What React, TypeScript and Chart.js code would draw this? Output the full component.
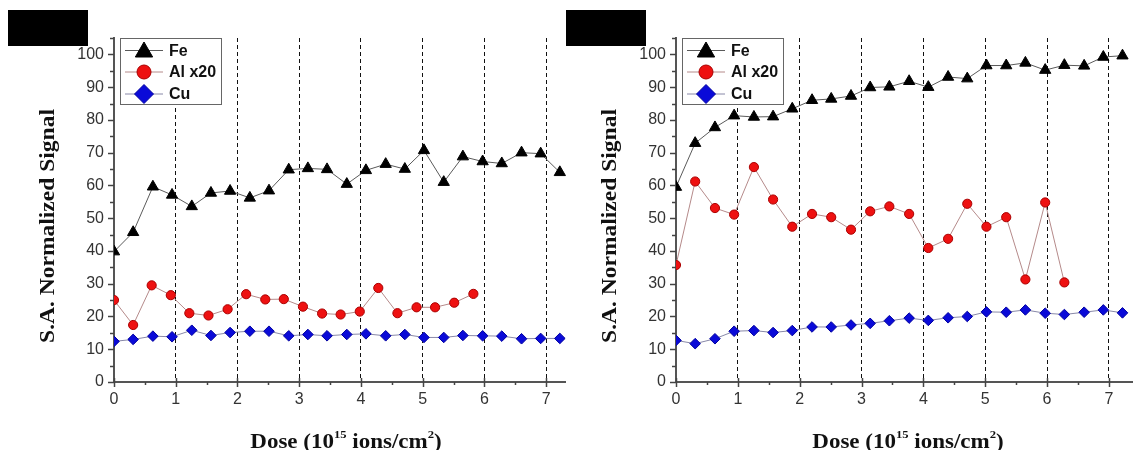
import React, { useEffect, useRef } from "react";
import { Chart, registerables } from "chart.js";

Chart.register(...registerables);

// ---- Data ----
const doseMain = [0, 0.31, 0.63, 0.94, 1.26, 1.57, 1.88, 2.2, 2.51, 2.83, 3.14, 3.45, 3.77, 4.08, 4.4, 4.71, 5.02, 5.34, 5.65, 5.97, 6.28, 6.6, 6.91, 7.22];
const doseAlLeft = [0, 0.31, 0.61, 0.92, 1.22, 1.53, 1.84, 2.14, 2.45, 2.75, 3.06, 3.37, 3.67, 3.98, 4.28, 4.59, 4.9, 5.2, 5.51, 5.82];

const leftFe = [39.8, 45.7, 59.6, 57.1, 53.6, 57.7, 58.3, 56.2, 58.4, 64.8, 65.2, 64.9, 60.4, 64.6, 66.5, 65.0, 70.7, 61.0, 68.8, 67.3, 66.7, 70.0, 69.7, 64.0];
const leftAl = [25.0, 17.4, 29.5, 26.5, 21.0, 20.3, 22.2, 26.8, 25.2, 25.3, 23.0, 20.9, 20.6, 21.5, 28.7, 21.0, 22.8, 22.8, 24.2, 26.9];
const leftCu = [12.4, 13.0, 14.0, 13.8, 15.8, 14.2, 15.1, 15.5, 15.5, 14.1, 14.5, 14.1, 14.5, 14.7, 14.1, 14.5, 13.6, 13.6, 14.2, 14.1, 14.0, 13.2, 13.3, 13.3];

const rightFe = [59.5, 72.9, 77.7, 81.3, 80.9, 81.0, 83.4, 86.0, 86.4, 87.3, 89.9, 90.1, 91.8, 90.0, 93.1, 92.6, 96.6, 96.6, 97.4, 95.2, 96.7, 96.5, 99.2, 99.6];
const rightAl = [35.7, 61.2, 53.1, 51.1, 65.6, 55.7, 47.4, 51.3, 50.3, 46.5, 52.1, 53.6, 51.3, 40.9, 43.7, 54.4, 47.4, 50.3, 31.3, 54.8, 30.4];
const rightCu = [12.7, 11.7, 13.2, 15.5, 15.7, 15.1, 15.7, 16.8, 16.8, 17.4, 17.9, 18.7, 19.5, 18.8, 19.6, 20.0, 21.4, 21.3, 22.0, 21.0, 20.6, 21.3, 22.0, 21.1];

const seriesNames = ["Fe", "Al x20", "Cu"];
const yTickValues = [0, 10, 20, 30, 40, 50, 60, 70, 80, 90, 100];
const yTitle = "S.A. Normalized Signal";
const xTitleParts = [
  { t: "Dose (10", sup: false },
  { t: "15", sup: true },
  { t: " ions/cm", sup: false },
  { t: "2", sup: true },
  { t: ")", sup: false },
];

const SANS = "'Liberation Sans', Arial, sans-serif";
const SERIF = "'Liberation Serif', 'Times New Roman', serif";

const FE = { line: "#5a5a5a", fill: "#000000", edge: "#000000", shape: "triangle", r: 6.5 };
const AL = { line: "#b58a8a", fill: "#ee1111", edge: "#aa0000", shape: "circle", r: 4.6 };
const CU = { line: "#8888a8", fill: "#0a0ad8", edge: "#0000a0", shape: "rectRot", r: 5.3 };

function pts(xs: number[], ys: number[]) {
  return ys.map((y, i) => ({ x: xs[i], y }));
}

function drawMarker(ctx: CanvasRenderingContext2D, shape: string, cx: number, cy: number, r: number, fill: string, edge: string) {
  ctx.beginPath();
  if (shape === "triangle") {
    ctx.moveTo(cx, cy - r);
    ctx.lineTo(cx + r * 0.866, cy + r * 0.5);
    ctx.lineTo(cx - r * 0.866, cy + r * 0.5);
    ctx.closePath();
  } else if (shape === "circle") {
    ctx.arc(cx, cy, r, 0, Math.PI * 2);
  } else {
    ctx.moveTo(cx, cy - r);
    ctx.lineTo(cx + r, cy);
    ctx.lineTo(cx, cy + r);
    ctx.lineTo(cx - r, cy);
    ctx.closePath();
  }
  ctx.fillStyle = fill;
  ctx.fill();
  ctx.strokeStyle = edge;
  ctx.lineWidth = 1;
  ctx.stroke();
}

const decorPlugin = {
  id: "decor",
  afterDraw(chart: any) {
    const { ctx, chartArea: a, scales } = chart;
    const x = scales.x;
    const y = scales.y;
    ctx.save();
    // tick marks
    ctx.strokeStyle = "#444";
    ctx.lineWidth = 1.5;
    for (let v = 0; v <= 105; v += 5) {
      const py = Math.round(y.getPixelForValue(v)) + 0.5;
      const len = v % 10 === 0 ? 6 : 4;
      ctx.beginPath();
      ctx.moveTo(a.left - len, py);
      ctx.lineTo(a.left, py);
      ctx.stroke();
    }
    for (let k = 0; k * 0.5 <= x.max; k++) {
      const v = k * 0.5;
      const px = Math.round(x.getPixelForValue(v)) + 0.5;
      ctx.beginPath();
      if (k % 2 === 0) {
        ctx.moveTo(px, a.bottom - 4);
        ctx.lineTo(px, a.bottom + 5);
      } else {
        ctx.moveTo(px, a.bottom);
        ctx.lineTo(px, a.bottom + 3);
      }
      ctx.stroke();
    }

    // legend
    const lx = a.left + 6;
    const ly = 38.5;
    ctx.fillStyle = "#fff";
    ctx.fillRect(lx, ly, 101, 66);
    ctx.strokeStyle = "#666";
    ctx.lineWidth = 1;
    ctx.strokeRect(Math.round(lx) + 0.5, ly, 101, 66);
    const rows = [50.5, 72, 94];
    const styles = [FE, AL, CU];
    const legendR = [10, 7, 9.5];
    ctx.font = `bold 16px ${SANS}`;
    ctx.textBaseline = "middle";
    ctx.textAlign = "left";
    styles.forEach((s, i) => {
      const ry = rows[i];
      ctx.strokeStyle = s.line;
      ctx.lineWidth = 1;
      ctx.beginPath();
      ctx.moveTo(a.left + 11, ry);
      ctx.lineTo(a.left + 49, ry);
      ctx.stroke();
      const cy = s.shape === "triangle" ? ry + 1.5 : ry;
      drawMarker(ctx, s.shape, a.left + 30, cy, legendR[i], s.fill, s.edge);
      ctx.fillStyle = "#111";
      ctx.fillText(seriesNames[i], a.left + 55, ry + 1);
    });

    // y title
    ctx.save();
    ctx.translate(a.left - 65, 226);
    ctx.rotate(-Math.PI / 2);
    ctx.scale(1.12, 1);
    ctx.font = `bold 21px ${SERIF}`;
    ctx.fillStyle = "#111";
    ctx.textAlign = "center";
    ctx.textBaseline = "middle";
    ctx.fillText(yTitle, 0, 0);
    ctx.restore();

    // x title with superscripts
    ctx.save();
    const mainFont = `bold 20px ${SERIF}`;
    const supFont = `bold 11px ${SERIF}`;
    let total = 0;
    const widths = xTitleParts.map((p) => {
      ctx.font = p.sup ? supFont : mainFont;
      const w = ctx.measureText(p.t).width;
      total += w;
      return w;
    });
    ctx.translate(a.left + 232, 448);
    ctx.scale(1.15, 1);
    ctx.fillStyle = "#111";
    ctx.textAlign = "left";
    ctx.textBaseline = "alphabetic";
    let cx = -total / 2;
    xTitleParts.forEach((p, i) => {
      ctx.font = p.sup ? supFont : mainFont;
      ctx.fillText(p.t, cx, p.sup ? -10 : 0);
      cx += widths[i];
    });
    ctx.restore();

    ctx.restore();
  },
};

function makeDataset(label: string, data: any[], s: any) {
  return {
    label,
    data,
    showLine: true,
    borderColor: s.line,
    borderWidth: 1,
    pointStyle: s.shape,
    pointRadius: s.r,
    pointBackgroundColor: s.fill,
    pointBorderColor: s.edge,
    pointBorderWidth: 1,
    fill: false,
  };
}

function buildConfig(fe: number[], al: number[], alDose: number[], cu: number[], axisLeft: number, xMax: number) {
  return {
    type: "scatter",
    data: {
      datasets: [
        makeDataset(seriesNames[0], pts(doseMain, fe), FE),
        makeDataset(seriesNames[1], pts(alDose, al), AL),
        makeDataset(seriesNames[2], pts(doseMain, cu), CU),
      ],
    },
    options: {
      animation: false,
      responsive: false,
      layout: { autoPadding: false, padding: { top: 38, left: 0, right: 0, bottom: 0 } },
      plugins: { legend: { display: false }, tooltip: { enabled: false }, title: { display: false } },
      scales: {
        x: {
          type: "linear",
          min: 0,
          max: xMax,
          afterFit: (s: any) => {
            s.height = 68;
            s.paddingLeft = 0;
            s.paddingRight = 0;
          },
          ticks: {
            stepSize: 1,
            includeBounds: false,
            padding: 8,
            color: "#333",
            font: { family: SANS, size: 16 },
            callback: (v: number) => (Number.isInteger(v) ? String(v) : ""),
          },
          grid: {
            drawTicks: false,
            drawOnChartArea: true,
            lineWidth: 1,
            color: (c: any) => (c.tick && c.tick.value > 0 && Number.isInteger(c.tick.value) ? "#111" : "rgba(0,0,0,0)"),
          },
          border: { display: true, color: "#555", width: 2, dash: [4, 3] },
          title: { display: false },
        },
        y: {
          type: "linear",
          min: 0,
          max: 105,
          afterFit: (s: any) => {
            s.width = axisLeft;
            s.paddingTop = 0;
            s.paddingBottom = 0;
          },
          ticks: {
            stepSize: 5,
            padding: 10,
            color: "#333",
            font: { family: SANS, size: 16 },
            callback: (v: number) => (yTickValues.includes(v) ? String(v) : ""),
          },
          grid: { display: false, drawTicks: false },
          border: { display: true, color: "#555", width: 2 },
          title: { display: false },
        },
      },
    },
    plugins: [decorPlugin],
  };
}

function Panel(props: { left: number; width: number; cfg: any }) {
  const ref = useRef<HTMLCanvasElement>(null);
  useEffect(() => {
    if (!ref.current) return;
    const chart = new Chart(ref.current, props.cfg);
    return () => chart.destroy();
  }, []);
  return (
    <canvas
      ref={ref}
      width={props.width}
      height={450}
      style={{ position: "absolute", left: props.left, top: 0, width: props.width, height: 450 }}
    />
  );
}

export default function App() {
  const leftCfg = buildConfig(leftFe, leftAl, doseAlLeft, leftCu, 114, 7.32);
  const rightCfg = buildConfig(rightFe, rightAl, doseMain.slice(0, rightAl.length), rightCu, 110, 7.39);
  return (
    <div style={{ position: "absolute", left: 0, top: 0, width: 1133, height: 450, background: "#fff", overflow: "hidden" }}>
      <Panel left={0} width={566} cfg={leftCfg} />
      <Panel left={566} width={567} cfg={rightCfg} />
      <div style={{ position: "absolute", left: 8, top: 10, width: 80, height: 36, background: "#000" }} />
      <div style={{ position: "absolute", left: 566, top: 10, width: 80, height: 36, background: "#000" }} />
    </div>
  );
}
